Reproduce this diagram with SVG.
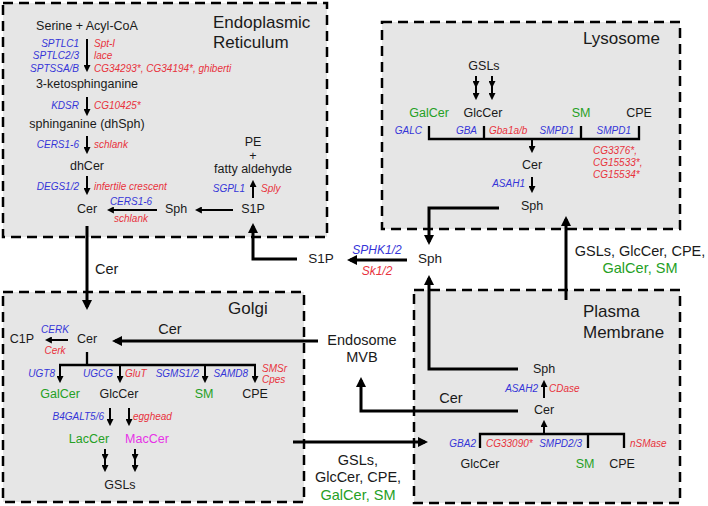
<svg xmlns="http://www.w3.org/2000/svg" width="708" height="506" viewBox="0 0 708 506">
<style>
.box{fill:#e6e6e6;stroke:#000;stroke-width:2.5;stroke-dasharray:10 6}
text{font-family:"Liberation Sans",Arial,sans-serif;fill:#1a1a1a}
.n{font-size:12.5px;text-anchor:middle}
.t{font-size:17px}
.b{font-size:10px;font-style:italic;fill:#3535d8}
.r{font-size:10px;font-style:italic;fill:#e8323c}
.e{text-anchor:end}
.m{text-anchor:middle}
.g{fill:#25a025}
.p{fill:#e632e6}
.L{font-size:14.5px}
.M{font-size:13.5px;text-anchor:middle}
.s{fill:none;stroke:#000;stroke-width:2;marker-end:url(#ah)}
.d{fill:none;stroke:#000;stroke-width:2;marker-mid:url(#ah);marker-end:url(#ah)}
.S{fill:none;stroke:#000;stroke-width:3;marker-end:url(#AH)}
.k{fill:none;stroke:#000;stroke-width:2.3}
</style>
<defs>
<marker id="ah" viewBox="0 0 10 10" refX="7" refY="5" markerWidth="7" markerHeight="7" orient="auto" markerUnits="userSpaceOnUse"><path d="M0,0L10,5L0,10z" fill="#000"/></marker>
<marker id="AH" viewBox="0 0 10 10" refX="7" refY="5" markerWidth="10" markerHeight="10" orient="auto" markerUnits="userSpaceOnUse"><path d="M0,0L10,5L0,10z" fill="#000"/></marker>
</defs>

<g id="compartments">
<g id="er"><rect class="box" x="3" y="3" width="324" height="234"/><text class="t" x="213" y="28">Endoplasmic</text><text class="t" x="213" y="48">Reticulum</text></g>
<g id="lysosome"><rect class="box" x="382" y="22" width="298" height="207"/><text class="t" x="583" y="44">Lysosome</text></g>
<g id="golgi"><rect class="box" x="3" y="292" width="301" height="210"/><text class="t" x="228" y="314">Golgi</text></g>
<g id="pm"><rect class="box" x="414" y="290" width="266" height="213"/><text class="t" x="583" y="317">Plasma</text><text class="t" x="583" y="338">Membrane</text></g>
</g>

<g id="connectors">
<path class="s" d="M87,39V70"/>
<path class="s" d="M87,97V114"/>
<path class="s" d="M87,136V152"/>
<path class="s" d="M87,176V193"/>
<path class="s" d="M157,210H109"/>
<path class="s" d="M233,210H197"/>
<path class="s" d="M253,198V182"/>
<path class="S" d="M87,226V307"/>
<path class="S" d="M318,341H115"/>
<path class="S" d="M297,259H253V226"/>
<path class="S" d="M407,260H350"/>
<path class="S" d="M499,208H429V242"/>
<path class="S" d="M518,369H429V278"/>
<path class="S" d="M518,411H361V380"/>
<path class="S" d="M293,442H425"/>
<path class="S" d="M566,300V219"/>
<path class="d" d="M476,76L476,86L476,98"/>
<path class="d" d="M492,76L492,86L492,98"/>
<path class="k" d="M429,126V139H639V126M484,126V139M581,126V139"/>
<path class="s" d="M532,139V151"/>
<path class="s" d="M532,177V191"/>
<path class="s" d="M68,340H47"/>
<path class="k" d="M87,352V365M59,365H256"/>
<path class="s" d="M60,365V381"/>
<path class="s" d="M120,365V381"/>
<path class="s" d="M205,365V381"/>
<path class="s" d="M255,365V381"/>
<path class="s" d="M110,408V424"/>
<path class="s" d="M129,408V424"/>
<path class="d" d="M105,449L105,459L105,470"/>
<path class="d" d="M135,449L135,459L135,470"/>
<path class="s" d="M544,398V382"/>
<path class="k" d="M480,448V434H624V448M588,434V448"/>
<path class="s" d="M544,434V422"/>
</g>

<g id="er-nodes">
<g id="serine"><text class="n" x="87" y="30">Serine + Acyl-CoA</text></g>
<g id="keto"><text class="n" x="87" y="88">3-ketosphinganine</text></g>
<g id="dhsph"><text class="n" x="87" y="128">sphinganine (dhSph)</text></g>
<g id="dhcer"><text class="n" x="87" y="170">dhCer</text></g>
<g id="er-cer"><text class="n" x="87" y="213">Cer</text></g>
<g id="er-sph"><text class="n" x="176" y="213">Sph</text></g>
<g id="er-s1p"><text class="n" x="253" y="213">S1P</text></g>
<g id="pe"><text class="n" x="253" y="146">PE</text><text class="n" x="253" y="160">+</text><text class="n" x="253" y="173">fatty aldehyde</text></g>
</g>
<g id="er-labels">
<text class="b e" x="79" y="47">SPTLC1</text>
<text class="b e" x="79" y="59">SPTLC2/3</text>
<text class="b e" x="79" y="72">SPTSSA/B</text>
<text class="r" x="94" y="47">Spt-I</text>
<text class="r" x="94" y="59">lace</text>
<text class="r" x="94" y="72">CG34293*, CG34194*, ghiberti</text>
<text class="b e" x="79" y="109">KDSR</text>
<text class="r" x="94" y="109">CG10425*</text>
<text class="b e" x="79" y="148">CERS1-6</text>
<text class="r" x="94" y="148">schlank</text>
<text class="b e" x="79" y="190">DEGS1/2</text>
<text class="r" x="94" y="190">infertile crescent</text>
<text class="b m" x="131" y="205">CERS1-6</text>
<text class="r m" x="131" y="222">schlank</text>
<text class="b e" x="245" y="192">SGPL1</text>
<text class="r" x="261" y="192">Sply</text>
</g>

<g id="lys-nodes">
<g id="lys-gsls"><text class="n" x="484" y="70">GSLs</text></g>
<g id="lys-galcer"><text class="n g" x="429" y="117">GalCer</text></g>
<g id="lys-glccer"><text class="n" x="483" y="117">GlcCer</text></g>
<g id="lys-sm"><text class="n g" x="581" y="117">SM</text></g>
<g id="lys-cpe"><text class="n" x="639" y="117">CPE</text></g>
<g id="lys-cer"><text class="n" x="532" y="169">Cer</text></g>
<g id="lys-sph"><text class="n" x="532" y="210">Sph</text></g>
</g>
<g id="lys-labels">
<text class="b e" x="422" y="134">GALC</text>
<text class="b e" x="477" y="134">GBA</text>
<text class="r" x="489" y="134">Gba1a/b</text>
<text class="b e" x="574" y="134">SMPD1</text>
<text class="b e" x="631" y="134">SMPD1</text>
<text class="r" x="593" y="154">CG3376*,</text>
<text class="r" x="593" y="166">CG15533*,</text>
<text class="r" x="593" y="178">CG15534*</text>
<text class="b e" x="525" y="187">ASAH1</text>
</g>

<g id="golgi-nodes">
<g id="g-cer"><text class="n" x="87" y="343">Cer</text></g>
<g id="g-c1p"><text class="n" x="22" y="343">C1P</text></g>
<g id="g-galcer"><text class="n g" x="60" y="398">GalCer</text></g>
<g id="g-glccer"><text class="n" x="119" y="398">GlcCer</text></g>
<g id="g-sm"><text class="n g" x="204" y="398">SM</text></g>
<g id="g-cpe"><text class="n" x="255" y="398">CPE</text></g>
<g id="g-laccer"><text class="n g" x="89" y="443">LacCer</text></g>
<g id="g-maccer"><text class="n p" x="147" y="443">MacCer</text></g>
<g id="g-gsls"><text class="n" x="120" y="489">GSLs</text></g>
</g>
<g id="golgi-labels">
<text class="b m" x="55" y="333">CERK</text>
<text class="r m" x="55" y="354">Cerk</text>
<text class="b e" x="55" y="377">UGT8</text>
<text class="b e" x="113" y="377">UGCG</text>
<text class="r" x="125" y="377">GluT</text>
<text class="b e" x="199" y="377">SGMS1/2</text>
<text class="b e" x="248" y="377">SAMD8</text>
<text class="r" x="262" y="372">SMSr</text>
<text class="r" x="262" y="383">Cpes</text>
<text class="b e" x="104" y="420">B4GALT5/6</text>
<text class="r" x="133" y="420">egghead</text>
</g>

<g id="pm-nodes">
<g id="pm-sph"><text class="n" x="544" y="373">Sph</text></g>
<g id="pm-cer"><text class="n" x="544" y="414">Cer</text></g>
<g id="pm-glccer"><text class="n" x="480" y="468">GlcCer</text></g>
<g id="pm-sm"><text class="n g" x="585" y="468">SM</text></g>
<g id="pm-cpe"><text class="n" x="622" y="468">CPE</text></g>
</g>
<g id="pm-labels">
<text class="b e" x="538" y="392">ASAH2</text>
<text class="r" x="549" y="392">CDase</text>
<text class="b e" x="476" y="447">GBA2</text>
<text class="r" x="486" y="447">CG33090*</text>
<text class="b e" x="582" y="447">SMPD2/3</text>
<text class="r" x="630" y="447">nSMase</text>
</g>

<g id="middle">
<g id="m-s1p"><text class="M" x="321" y="263">S1P</text></g>
<g id="m-sph"><text class="M" x="430" y="263">Sph</text></g>
<g id="endosome"><text class="L m" x="362" y="345">Endosome</text><text class="L m" x="362" y="362">MVB</text></g>
<text class="b m" x="377" y="254" style="font-size:12px">SPHK1/2</text>
<text class="r m" x="377" y="275" style="font-size:12px">Sk1/2</text>
<text class="L" x="95" y="274">Cer</text>
<text class="L m" x="170" y="334">Cer</text>
<text class="L m" x="451" y="403">Cer</text>
<text class="L m" x="358" y="465">GSLs,</text>
<text class="L m" x="358" y="482">GlcCer, CPE,</text>
<text class="L m g" x="358" y="500">GalCer, SM</text>
<text class="L m" x="640" y="256">GSLs, GlcCer, CPE,</text>
<text class="L m g" x="640" y="273">GalCer, SM</text>
</g>
</svg>
